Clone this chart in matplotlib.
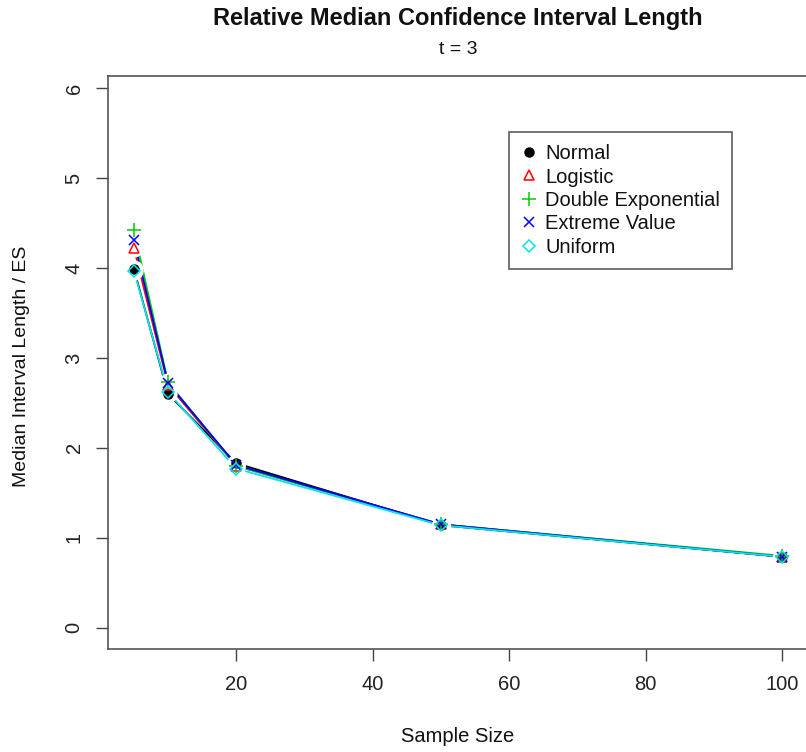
import matplotlib
matplotlib.use("Agg")
import matplotlib.pyplot as plt

plt.rcParams['font.family'] = ['Liberation Sans', 'DejaVu Sans']

sample_size = [5, 10, 20, 50, 100]
normal = [3.99, 2.60, 1.83, 1.14, 0.79]
logistic = [4.22, 2.70, 1.80, 1.15, 0.79]
double_exp = [4.42, 2.73, 1.80, 1.15, 0.80]
extreme_value = [4.31, 2.72, 1.81, 1.15, 0.79]
uniform = [3.97, 2.62, 1.77, 1.14, 0.79]

series_names = ["Normal", "Logistic", "Double Exponential", "Extreme Value", "Uniform"]
series_values = [normal, logistic, double_exp, extreme_value, uniform]
colors = ["#000000", "#FF0000", "#00CD00", "#0000FF", "#00E5EE"]
markers = ["o", "^", "+", "x", "D"]

fig = plt.figure(figsize=(8.06, 7.52), dpi=100)
ax = fig.add_axes([108/806, 1-649/752, 700/806, 573/752])

for vals, c in zip(series_values, colors):
    ax.plot(sample_size, vals, color=c, lw=1.3, zorder=2, solid_capstyle='butt')
for vals in series_values:
    ax.plot(sample_size, vals, ls='none', marker='o', ms=13, mfc='white', mec='none', zorder=3)

handles = []
for name, vals, c, m in zip(series_names, series_values, colors, markers):
    if m == "o":
        kw = dict(mfc=c, mec=c, ms=6.5)
    elif m in ("^", "D"):
        kw = dict(mfc='none', mec=c, ms=7 if m == "^" else 6, mew=1.1)
    else:
        kw = dict(mec=c, ms=10 if m == "+" else 7.5, mew=1.1)
    ax.plot(sample_size, vals, ls='none', marker=m, zorder=4, **kw)
    h, = ax.plot([], [], ls='none', marker=m, **kw)
    handles.append(h)

ax.set_xlim(1.2, 103.8)
ax.set_ylim(-0.236, 6.136)
ax.set_xticks([20, 40, 60, 80, 100])
ax.set_yticks([0, 1, 2, 3, 4, 5, 6])
ax.tick_params(axis='both', labelsize=14.5, length=8.6, width=1, color='#444444', labelcolor='#222222')
ax.tick_params(axis='x', pad=10)
ax.tick_params(axis='y', pad=9)
for lab in ax.get_yticklabels():
    lab.set_rotation(90)
    lab.set_va('center')
for sp in ax.spines.values():
    sp.set_color('#555555')
    sp.set_linewidth(1.2)
ax.spines['right'].set_visible(False)

fig.text(458/806, 1-18/752, "Relative Median Confidence Interval Length", ha='center', va='center',
         fontsize=17, fontweight='bold', color='#111111')
fig.text(458/806, 1-50/752, "t = 3", ha='center', va='center', fontsize=14, color='#111111')
fig.text(458/806, 1-736/752, "Sample Size", ha='center', va='center', fontsize=14.5, color='#111111')
fig.text(22/806, 1-366/752, "Median Interval Length / ES", ha='center', va='center', rotation=90,
         fontsize=14, color='#111111')

leg = ax.legend(handles, series_names, loc='upper left', bbox_to_anchor=(509/806, 1-132/752),
                bbox_transform=fig.transFigure, fontsize=14.5, frameon=True, fancybox=False,
                handlelength=0.8, handletextpad=0.4, labelspacing=0.22, borderpad=0.6,
                borderaxespad=0, edgecolor='#333333')
leg.get_frame().set_linewidth(1.2)
for t in leg.get_texts():
    t.set_color('#111111')

fig.savefig("out.png", dpi=100)
